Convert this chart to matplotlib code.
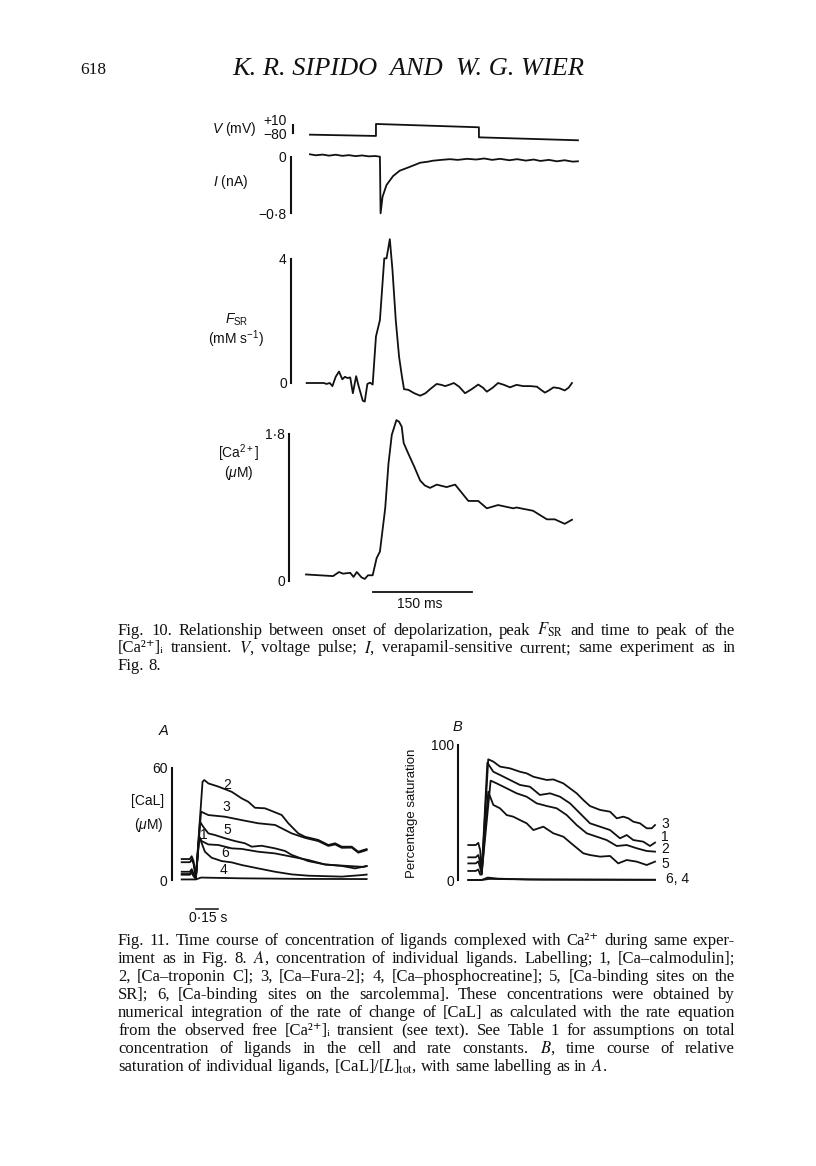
import matplotlib
matplotlib.use("Agg")
import matplotlib.pyplot as plt

# ---------------- data ----------------
# Fig. 10 traces (time in ms)
v_t = [6, 106, 106, 262, 262, 412]
v_mv = [-98, -112, 18, -18, -127, -159]

i_t = [6, 15, 25, 35, 45, 55, 65, 75, 85, 95, 105, 112, 113, 116, 122, 132, 142, 158, 173, 185,
       192, 205, 218, 230, 244, 258, 270, 282, 294, 308, 320, 333, 345, 355, 368, 380, 392, 404, 412]
i_na = [0.034, 0.02, 0.03, 0.015, 0.028, 0.012, 0.022, 0.008, 0.018, 0.005, 0.01, 0.0, -0.8, -0.565,
        -0.40, -0.273, -0.198, -0.141, -0.085, -0.07, -0.057, -0.045, -0.035, -0.045, -0.03, -0.04,
        -0.025, -0.045, -0.03, -0.05, -0.035, -0.055, -0.04, -0.06, -0.045, -0.065, -0.05, -0.07, -0.065]

fsr_t = [1, 27, 31, 36, 40, 45, 50, 55, 59, 63, 67, 71, 76, 80, 86, 89, 93, 97, 101, 106,
         112, 118.6, 122, 127, 131, 136, 141, 145, 148.5, 155, 164, 173, 181, 188, 198, 205, 211, 218,
         224, 232, 241, 251, 261, 268, 274, 283, 291, 300, 309, 319, 329, 340, 350, 356, 362, 368,
         375, 384, 392, 398, 403]
fsr_v = [0, 0, -0.03, 0, -0.1, 0.2, 0.37, 0.12, 0.2, 0.16, 0.18, -0.33, 0.22, -0.12, -0.57, -0.6,
         -0.03, 0.01, -0.05, 1.5, 2.03, 4.02, 4.02, 4.64, 3.65, 2.03, 0.85, 0.26, -0.2, -0.22, -0.33,
         -0.41, -0.33, -0.2, -0.03, -0.06, -0.1, -0.05, 0.0, -0.12, -0.33, -0.2, -0.05, -0.15, -0.28,
         -0.15, 0, -0.06, -0.14, -0.06, -0.1, -0.1, -0.12, -0.22, -0.31, -0.24, -0.14, -0.17, -0.24,
         -0.15, 0]

ca_t = [0, 41, 50, 56, 67, 72, 77, 84, 89, 94, 101, 107, 112, 120, 125, 130, 137, 141, 145, 148,
        155, 164, 173, 180, 188, 198, 213, 226, 233, 246, 261, 274, 291, 314, 319, 344, 365, 377, 392, 403]
ca_um = [0.08, 0.06, 0.11, 0.09, 0.10, 0.05, 0.11, 0.045, 0.025, 0.07, 0.07, 0.28, 0.36, 0.89, 1.44,
         1.79, 1.97, 1.95, 1.89, 1.69, 1.56, 1.40, 1.23, 1.17, 1.14, 1.18, 1.15, 1.18, 1.11, 0.98, 0.98,
         0.89, 0.93, 0.89, 0.90, 0.86, 0.755, 0.755, 0.70, 0.75]

# Fig. 11A  [CaL] (uM), time in s
a2_t = [0, 0.055, 0.067, 0.08, 0.095, 0.14, 0.152, 0.179, 0.246, 0.336, 0.403, 0.447, 0.492, 0.559,
        0.604, 0.672, 0.716, 0.783, 0.828, 0.917, 0.985, 1.03, 1.075, 1.142, 1.186, 1.22, 1.242]
a2_v = [11.2, 11.2, 12.7, 10, 1.5, 52.5, 53.4, 51.6, 49.9, 47.1, 43.6, 41.8, 38.6, 38.3, 36.9, 34.7,
        30.3, 24.9, 23.1, 21.4, 18.7, 19.6, 17.8, 17.8, 15.1, 16.0, 16.5]
a3_t = [0, 0.055, 0.067, 0.08, 0.095, 0.13, 0.179, 0.291, 0.403, 0.514, 0.627, 0.672, 0.739, 0.828,
        0.917, 0.985, 1.03, 1.075, 1.142, 1.186, 1.22, 1.242]
a3_v = [9.5, 9.5, 11, 8.5, 1.2, 36.5, 34.7, 33.8, 32.0, 30.3, 29.4, 27.6, 24.9, 22.5, 20.8, 18.2,
        19.0, 17.2, 17.3, 14.6, 15.4, 16.0]
a5_t = [0, 0.055, 0.067, 0.08, 0.095, 0.123, 0.145, 0.179, 0.224, 0.291, 0.358, 0.425, 0.47, 0.537,
        0.627, 0.694, 0.739, 0.85, 0.962, 1.075, 1.164, 1.22, 1.242]
a5_v = [4.4, 4.4, 5.8, 3.5, 1.0, 31.1, 28.4, 24.9, 24.0, 22.3, 20.8, 19.6, 17.8, 18.3, 16.9, 15.5,
        13.4, 10.1, 8.3, 7.5, 6.2, 7.1, 7.5]
a1_t = [0, 0.055, 0.067, 0.08, 0.095, 0.118, 0.134, 0.179, 0.246, 0.336, 0.403, 0.514, 0.627, 0.716,
        0.85, 0.962, 1.075, 1.22, 1.242]
a1_v = [3.2, 3.2, 4.5, 2.5, 0.8, 23.1, 20.8, 19.0, 18.7, 16.9, 16.6, 15.1, 14.2, 12.8, 10.7, 8.3,
        7.7, 7.0, 7.4]
a6_t = [0, 0.055, 0.067, 0.08, 0.095, 0.118, 0.156, 0.201, 0.269, 0.336, 0.403, 0.514, 0.627, 0.739,
        0.85, 1.075, 1.22, 1.242]
a6_v = [2.8, 2.8, 3.9, 2.0, 0.6, 23.1, 15.1, 11.9, 10.1, 9.4, 8.0, 6.2, 4.4, 3.0, 2.3, 1.8, 2.7, 2.9]
a4_t = [0, 0.095, 0.13, 0.4, 0.8, 1.242]
a4_v = [0.3, 0.3, 1.3, 0.9, 0.6, 0.5]

# Fig. 11B  percentage saturation, time in s
b3_t = [0, 0.05, 0.067, 0.08, 0.09, 0.134, 0.168, 0.213, 0.28, 0.347, 0.392, 0.437, 0.481, 0.527,
        0.571, 0.638, 0.683, 0.728, 0.772, 0.817, 0.885, 0.952, 0.997, 1.041, 1.075, 1.108, 1.153,
        1.198, 1.232, 1.254]
b3_v = [25.9, 25.9, 27.5, 22, 5, 89.4, 87.7, 84, 82.7, 80.2, 79, 76.5, 75.3, 74.1, 74.5, 71.6, 67.9,
        64.2, 59.3, 54.8, 51.9, 50.6, 45.7, 46.9, 45.7, 43.2, 42, 38.3, 38.3, 40.7]
b1_t = [0, 0.05, 0.067, 0.08, 0.09, 0.128, 0.168, 0.213, 0.28, 0.347, 0.414, 0.481, 0.549, 0.616,
        0.683, 0.75, 0.817, 0.885, 0.952, 1.019, 1.064, 1.108, 1.175, 1.22, 1.254]
b1_v = [16.8, 16.8, 18.5, 13, 5, 86.9, 80.2, 77.8, 74.1, 70.4, 69.1, 63, 64.2, 61.7, 56.8, 49.4, 42,
        39.5, 37, 30.9, 33.3, 29.6, 28.4, 25.2, 27.7]
b2_t = [0, 0.05, 0.067, 0.08, 0.09, 0.15, 0.19, 0.258, 0.325, 0.392, 0.459, 0.527, 0.594, 0.661,
        0.728, 0.795, 0.862, 0.929, 0.997, 1.064, 1.131, 1.198, 1.254]
b2_v = [12.3, 12.3, 13.8, 9, 5, 73.6, 71.6, 67.9, 64.2, 61.7, 56.8, 54.8, 53.1, 48.1, 40.7, 34.6,
        32.1, 29.6, 25.2, 25.9, 23.5, 21.5, 21]
b5_t = [0, 0.05, 0.067, 0.08, 0.09, 0.134, 0.168, 0.213, 0.258, 0.302, 0.347, 0.392, 0.437, 0.504,
        0.571, 0.638, 0.705, 0.772, 0.817, 0.885, 0.952, 1.007, 1.064, 1.131, 1.198, 1.254]
b5_v = [6.7, 6.7, 7.8, 4, 4, 65.4, 55.6, 53.1, 48.1, 46.9, 44.4, 42, 37, 39.5, 34.6, 32.1, 25.9,
        19.8, 18.5, 17.3, 17.8, 12.3, 14.8, 13.6, 11.1, 13.6]
b6_t = [0, 0.09, 0.13, 0.2, 0.4, 1.254]
b6_v = [0, 0, 1.8, 1.0, 0.4, 0.2]
b4_t = [0, 0.09, 0.14, 0.5, 1.254]
b4_v = [0, 0, 0.8, 0.3, 0.1]

# ---------------- texts ----------------
header_text = "K. R. SIPIDO  AND  W. G. WIER"
cap10 = [
    r"Fig. 10. Relationship between onset of depolarization, peak $F_{\mathrm{SR}}$ and time to peak of the",
    "[Ca²⁺]ᵢ transient. $V$, voltage pulse; $I$, verapamil-sensitive current; same experiment as in",
    "Fig. 8.",
]
cap11 = [
    "Fig. 11. Time course of concentration of ligands complexed with Ca²⁺ during same exper-",
    "iment as in Fig. 8. $A$, concentration of individual ligands. Labelling; 1, [Ca–calmodulin];",
    "2, [Ca–troponin C]; 3, [Ca–Fura-2]; 4, [Ca–phosphocreatine]; 5, [Ca-binding sites on the",
    "SR]; 6, [Ca-binding sites on the sarcolemma]. These concentrations were obtained by",
    "numerical integration of the rate of change of [CaL] as calculated with the rate equation",
    "from the observed free [Ca²⁺]ᵢ transient (see text). See Table 1 for assumptions on total",
    "concentration of ligands in the cell and rate constants. $B$, time course of relative",
    r"saturation of individual ligands, [CaL]/[$L$]$_{\mathrm{tot}}$, with same labelling as in $A$.",
]

# ---------------- figure ----------------
plt.rcParams["font.family"] = ["Liberation Sans", "DejaVu Sans"]
plt.rcParams["mathtext.fontset"] = "custom"
plt.rcParams["mathtext.rm"] = "Liberation Sans"
plt.rcParams["mathtext.it"] = "Liberation Sans:italic"
plt.rcParams["mathtext.bf"] = "Liberation Sans:bold"

W, H = 816, 1166
fig = plt.figure(figsize=(W / 100, H / 100), dpi=100)
ov = fig.add_axes([0, 0, 1, 1])
ov.set_xlim(0, W)
ov.set_ylim(H, 0)
ov.axis("off")

LW = 1.3
INK = "#111111"


def px_axes(x0, x1, y0, y1, xref, xscale, yref, vref, yscale):
    ax = fig.add_axes([x0 / W, 1 - y1 / H, (x1 - x0) / W, (y1 - y0) / H])
    ax.set_xlim((x0 - xref) / xscale, (x1 - xref) / xscale)
    ax.set_ylim(vref + (yref - y1) / yscale, vref + (yref - y0) / yscale)
    ax.patch.set_visible(False)
    for s in ["top", "right", "bottom"]:
        ax.spines[s].set_visible(False)
    ax.set_xticks([])
    return ax


def ybar(ax, xbar, lo, hi, ticks=None, labels=None):
    sp = ax.spines["left"]
    sp.set_position(("data", xbar))
    sp.set_bounds(lo, hi)
    sp.set_linewidth(1.5)
    sp.set_color(INK)
    if ticks:
        ax.set_yticks(ticks, labels)
    else:
        ax.set_yticks([])
    ax.tick_params(axis="y", length=0, pad=3, labelsize=10, labelcolor=INK)


def trace(ax, t, v):
    ax.plot(t, v, color=INK, lw=LW, clip_on=False, solid_joinstyle="round")


# Top: V
axV = px_axes(240, 600, 110, 148, 306, 0.66, 133, -80, 0.0922)
ybar(axV, (292.7 - 306) / 0.66, -80, 10)
trace(axV, v_t, v_mv)
# I
axI = px_axes(240, 600, 145, 225, 306, 0.66, 156.7, 0, 70.75)
ybar(axI, (290.7 - 306) / 0.66, -0.8, 0, [-0.8, 0], ["\u22120\u00b78", "0"])
trace(axI, i_t, i_na)
# FSR
axF = px_axes(240, 600, 230, 412, 306, 0.66, 383, 0, 31)
ybar(axF, (291 - 306) / 0.66, 0, 4, [0, 4], ["0", "4"])
trace(axF, fsr_t, fsr_v)
# Ca
axC = px_axes(240, 600, 412, 615, 306, 0.66, 581, 0, 81.67)
ybar(axC, (289 - 306) / 0.66, 0, 1.8, [0, 1.8], ["0", "1\u00b78"])
trace(axC, ca_t, ca_um)
axC.plot([101, 251], [-0.135, -0.135], color=INK, lw=LW, clip_on=False)

# Fig 11 A
axA = px_axes(140, 400, 740, 925, 181.7, 148.9, 880, 0, 1.872)
ybar(axA, -0.067, 0, 60, [0, 60], ["0", "60"])
for t, v in [(a2_t, a2_v), (a3_t, a3_v), (a5_t, a5_v), (a1_t, a1_v), (a6_t, a6_v), (a4_t, a4_v)]:
    trace(axA, t, v)
axA.plot([0.096, 0.246], [-15.5, -15.5], color=INK, lw=1.1, clip_on=False)

# Fig 11 B
axB = px_axes(430, 700, 735, 900, 468.3, 148.9, 880, 0, 1.35)
ybar(axB, -0.067, 0, 100, [0, 100], ["0", "100"])
for t, v in [(b3_t, b3_v), (b1_t, b1_v), (b2_t, b2_v), (b5_t, b5_v), (b6_t, b6_v), (b4_t, b4_v)]:
    trace(axB, t, v)

# ---------------- labels (overlay, pixel coords) ----------------
def lab(x, y, s, ha="center", fs=10, **kw):
    ov.text(x, y, s, ha=ha, va="center", fontsize=fs, color=INK, **kw)

lab(212, 129, r"$V$ (mV)", ha="left")
lab(287, 121, "+10", ha="right")
lab(287, 135, "\u221280", ha="right")
lab(213, 182, r"$I$ (nA)", ha="left")
lab(237, 320, r"$F_{\mathrm{SR}}$")
lab(236, 339, r"(mM s$^{-1}$)")
lab(239, 453, r"[Ca$^{2+}$]")
lab(239, 473, r"($\mu$M)")
lab(420, 604, "150 ms")

lab(164, 731, "A", fs=10.5, style="italic")
lab(164, 801, "[CaL]", ha="right")
lab(164, 825, r"($\mu$M)", ha="right")
lab(208, 918, "0\u00b715 s")
for x, y, s in [(226.7, 785, "2"), (226.7, 807, "3"), (227.3, 830, "5"), (203.5, 835, "1"),
                (225, 853, "6"), (223.5, 870, "4")]:
    lab(x, y, s, fs=10)

lab(457, 727, "B", fs=10.5, style="italic")
lab(412, 813, "Percentage saturation", fs=9.5, rotation=90)
for x, y, s in [(661, 824, "3"), (661, 837, "1"), (661, 849, "2"), (661, 864.5, "5"), (666, 879, "6, 4")]:
    lab(x, y, s, ha="left", fs=10)

# ---------------- serif page text ----------------
renderer = fig.canvas.get_renderer()
SERIF = ["Liberation Serif", "DejaVu Serif", "DejaVu Sans"]


def set_line(words, x0, x1, y, fs, justify=True, style="normal"):
    ts = [ov.text(0, y, w, fontsize=fs, family=SERIF, style=style, math_fontfamily="stix",
                  ha="left", va="baseline", color=INK) for w in words]
    ws = [t.get_window_extent(renderer).width for t in ts]
    space = fs * 100 / 72 * 0.25
    if justify and len(ws) > 1:
        gap = (x1 - x0 - sum(ws)) / (len(ws) - 1)
    else:
        gap = space
    x = x0
    for t, w in zip(ts, ws):
        t.set_x(x)
        x += w + gap


def paragraph(lines, x0, x1, base, step, fs):
    for k, line in enumerate(lines):
        set_line(line.split(" "), x0, x1, base + k * step, fs, justify=(k < len(lines) - 1))


def fit_text(x0, x1, y, s, fs0, **kw):
    t = ov.text(x0, y, s, fontsize=fs0, family=SERIF, ha="left", va="baseline", color=INK, **kw)
    w = t.get_window_extent(renderer).width
    t.set_fontsize(fs0 * (x1 - x0) / w)


ov.text(80, 74, "618", fontsize=12.5, family=SERIF, ha="left", va="baseline", color=INK)
fit_text(232, 585, 75, header_text, 14, style="italic")

paragraph(cap10, 118, 735, 635, 17.5, 12)
paragraph(cap11, 118, 735, 945, 18, 12)

fig.savefig("out.png", dpi=100)
